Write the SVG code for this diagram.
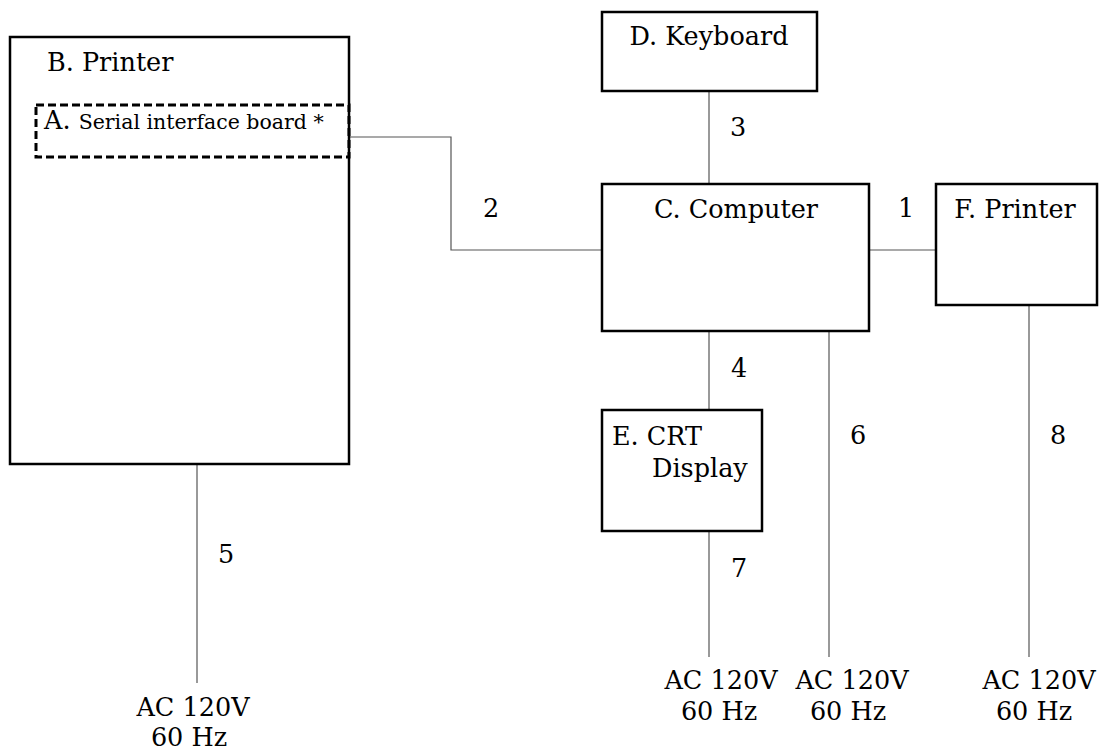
<svg xmlns="http://www.w3.org/2000/svg" width="1101" height="751" viewBox="0 0 1101 751">
<style>
.box{fill:#fff;stroke:#000;stroke-width:2.5}
.dash{fill:none;stroke:#000;stroke-width:3;stroke-dasharray:8 4}
.wire{fill:none;stroke:#555;stroke-width:1.2}
text{font-family:"DejaVu Serif","Liberation Serif",serif;font-size:25.5px;fill:#000}
.m{text-anchor:middle}
.s{font-size:20.5px}
</style>
<rect width="1101" height="751" fill="#fff"/>
<g id="connectors">
<polyline class="wire" points="350,137 451,137 451,250 602,250"/>
<line class="wire" x1="869" y1="250" x2="936" y2="250"/>
<line class="wire" x1="709" y1="91" x2="709" y2="184"/>
<line class="wire" x1="709" y1="331" x2="709" y2="410"/>
<line class="wire" x1="709" y1="531" x2="709" y2="657"/>
<line class="wire" x1="829" y1="331" x2="829" y2="657"/>
<line class="wire" x1="1029" y1="305" x2="1029" y2="657"/>
<line class="wire" x1="197" y1="465" x2="197" y2="683"/>
<text class="m" x="906" y="217">1</text>
<text class="m" x="491" y="217">2</text>
<text class="m" x="738" y="136">3</text>
<text class="m" x="739" y="377">4</text>
<text class="m" x="226" y="563">5</text>
<text class="m" x="858" y="444">6</text>
<text class="m" x="739" y="577">7</text>
<text class="m" x="1058" y="444">8</text>
</g>
<g id="nodeB">
<rect class="box" x="10" y="37" width="339" height="427"/>
<text x="47" y="71">B. Printer</text>
</g>
<g id="nodeA">
<rect class="dash" x="36" y="105" width="313" height="52"/>
<text x="44" y="129">A. <tspan class="s">Serial interface board *</tspan></text>
</g>
<g id="nodeD">
<rect class="box" x="602" y="12" width="215" height="79"/>
<text class="m" x="709" y="45">D. Keyboard</text>
</g>
<g id="nodeC">
<rect class="box" x="602" y="184" width="267" height="147"/>
<text class="m" x="736" y="218">C. Computer</text>
</g>
<g id="nodeF">
<rect class="box" x="936" y="184" width="161" height="121"/>
<text class="m" x="1015" y="218">F. Printer</text>
</g>
<g id="nodeE">
<rect class="box" x="602" y="410" width="160" height="121"/>
<text x="612" y="445">E. CRT</text>
<text x="652" y="477">Display</text>
</g>
<g id="power5">
<text class="m" x="193" y="716">AC 120V</text>
<text class="m" x="189" y="746">60 Hz</text>
</g>
<g id="power7">
<text class="m" x="721" y="689">AC 120V</text>
<text class="m" x="719" y="720">60 Hz</text>
</g>
<g id="power6">
<text class="m" x="852" y="689">AC 120V</text>
<text class="m" x="848" y="720">60 Hz</text>
</g>
<g id="power8">
<text class="m" x="1039" y="689">AC 120V</text>
<text class="m" x="1034" y="720">60 Hz</text>
</g>
</svg>
